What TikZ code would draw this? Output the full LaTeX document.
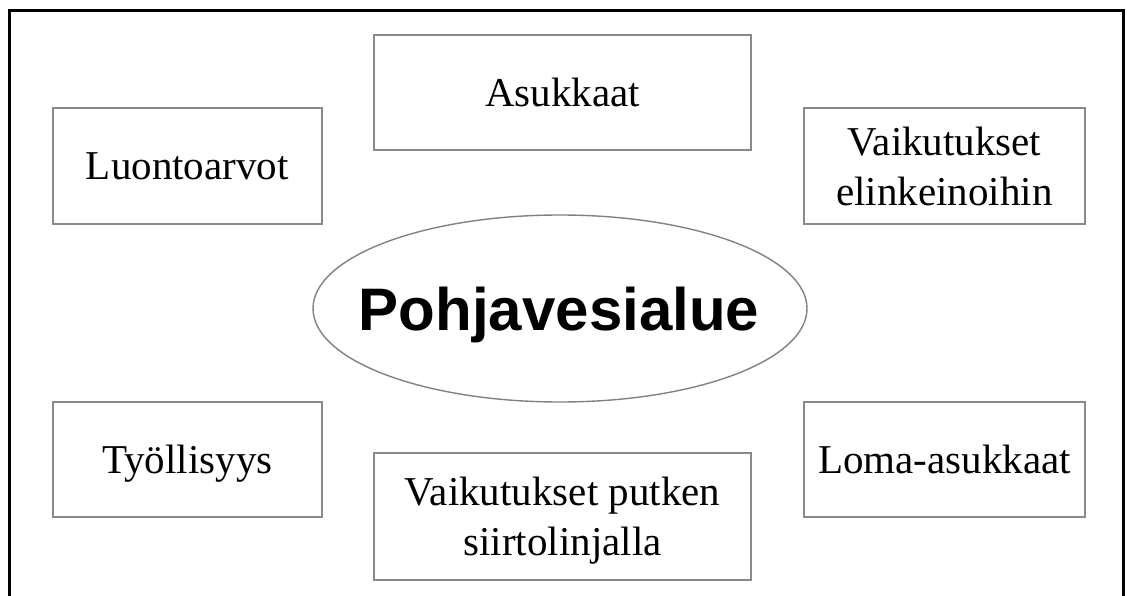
\documentclass[tikz,border=0pt]{standalone}
\usepackage{fontspec}
\setmainfont{Liberation Serif}
\newfontfamily\headfont{Liberation Sans}
\definecolor{boxline}{RGB}{138,138,138}
\definecolor{ovalline}{RGB}{130,130,130}
\tikzset{
  topicbox/.style={draw=boxline, line width=2.2pt, rectangle, inner sep=0pt,
    align=center, text depth=0pt,
    font=\fontsize{41}{50}\selectfont},
  centertitle/.style={inner sep=0pt, text depth=0pt,
    font=\headfont\bfseries\fontsize{60}{72}\selectfont},
  ovalrim/.style={draw=ovalline, line width=1.4pt},
  frameline/.style={draw=black, line width=3pt}
}
\begin{document}
\begin{tikzpicture}[x=1pt, y=-1pt]
  \useasboundingbox (0,0) rectangle (1127,596);
  \fill[white] (0,0) rectangle (1127,596);

  % outer frame, open at the bottom
  \coordinate (fbl) at (9.7,620);
  \coordinate (ftl) at (9.7,10.5);
  \coordinate (ftr) at (1123,10.5);
  \coordinate (fbr) at (1123,620);
  \begin{scope}
    \clip (0,0) rectangle (1127,596);
    \draw[frameline] (fbl) -- (ftl) -- (ftr) -- (fbr);
  \end{scope}

  % centre oval with its title
  \node[centertitle] (core) at (559,308.5) {Pohjavesialue};
  \draw[ovalrim] (560,308.5) ellipse [x radius=247, y radius=93.5];

  % surrounding topics
  \node[topicbox, minimum width=269pt, minimum height=116pt] (luonto) at (187.3,166) {Luontoarvot};
  \node[topicbox, minimum width=377pt, minimum height=115pt] (asuk) at (562.5,92.5) {Asukkaat};
  \node[topicbox, minimum width=281pt, minimum height=116pt] (elink) at (944.5,166) {Vaikutukset\\elinkeinoihin};
  \node[topicbox, minimum width=269pt, minimum height=115pt] (tyo) at (187.3,459.5) {Työllisyys};
  \node[topicbox, minimum width=281pt, minimum height=115pt] (loma) at (944.5,459.5) {Loma-asukkaat};
  \node[topicbox, minimum width=377pt, minimum height=127pt] (putki) at (562.5,516.5) {Vaikutukset putken\\siirtolinjalla};
\end{tikzpicture}
\end{document}
